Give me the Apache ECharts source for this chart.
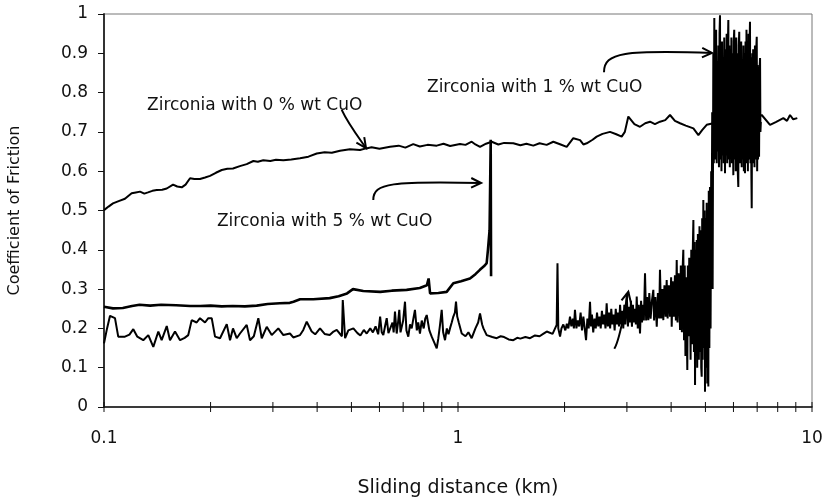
<!DOCTYPE html>
<html>
<head>
<meta charset="utf-8">
<script src="https://cdn.jsdelivr.net/npm/echarts@6/dist/echarts.min.js"></script>
<style>
  html, body { margin: 0; padding: 0; background: #fff; }
  #chart { width: 824px; height: 498px; }
</style>
</head>
<body>
<div id="chart"></div>
<script>
// Friction coefficient vs sliding distance (km) for zirconia with CuO additions.

// Tick positions along the logarithmic distance axis (km)
const xTickValues = [0.1, 0.2, 0.3, 0.4, 0.5, 0.6, 0.7, 0.8, 0.9, 1, 2, 3, 4, 5, 6, 7, 8, 9, 10];

// Zirconia with 0 % wt CuO
const cuo0 = [
  [0.100,0.501],[0.103,0.510],[0.106,0.518],[0.110,0.524],[0.1146,0.530],[0.1197,0.544],[0.1230,0.546],
  [0.1264,0.548],[0.1300,0.543],[0.1331,0.546],[0.1370,0.550],[0.1409,0.552],[0.1460,0.553],[0.1504,0.556],
  [0.1567,0.566],[0.1610,0.561],[0.1658,0.559],[0.1700,0.566],[0.1750,0.582],[0.1800,0.580],[0.1867,0.580],
  [0.1930,0.584],[0.1993,0.588],[0.2070,0.596],[0.2151,0.603],[0.2230,0.606],[0.2314,0.607],[0.2420,0.613],
  [0.2530,0.618],[0.2642,0.626],[0.2720,0.624],[0.2818,0.628],[0.2950,0.626],[0.3060,0.629],[0.3211,0.628],
  [0.3380,0.630],[0.3579,0.633],[0.3780,0.637],[0.3990,0.645],[0.4200,0.648],[0.4400,0.647],[0.4642,0.652],
  [0.4950,0.656],[0.5287,0.654],[0.5497,0.658],[0.5700,0.661],[0.6000,0.657],[0.6428,0.662],[0.6800,0.665],
  [0.7100,0.660],[0.7474,0.669],[0.7800,0.663],[0.8200,0.667],[0.8708,0.665],[0.9100,0.670],[0.9500,0.664],
  [1.013,0.669],[1.050,0.667],[1.093,0.675],[1.120,0.668],[1.154,0.662],[1.200,0.670],[1.245,0.675],
  [1.300,0.668],[1.350,0.672],[1.433,0.671],[1.500,0.666],[1.560,0.670],[1.632,0.665],[1.700,0.671],
  [1.780,0.667],[1.859,0.675],[1.950,0.668],[2.028,0.662],[2.117,0.684],[2.212,0.679],[2.260,0.668],
  [2.310,0.671],[2.400,0.680],[2.465,0.688],[2.560,0.695],[2.688,0.700],[2.800,0.694],[2.900,0.688],
  [2.960,0.700],[3.028,0.739],[3.150,0.720],[3.267,0.713],[3.380,0.722],[3.487,0.726],[3.600,0.720],
  [3.720,0.726],[3.850,0.730],[3.971,0.743],[4.100,0.728],[4.239,0.722],[4.400,0.716],[4.623,0.709],
  [4.776,0.692],[4.900,0.705],[5.041,0.718],[5.263,0.722],[5.600,0.720],[6.000,0.725],[6.500,0.730],
  [7.000,0.735],[7.211,0.743],[7.610,0.718],[7.900,0.725],[8.299,0.735],[8.500,0.728],[8.668,0.743],
  [8.850,0.732],[9.088,0.735]
];

// Zirconia with 1 % wt CuO
const cuo1 = [
  [0.100,0.162],[0.102,0.200],[0.104,0.232],[0.1074,0.226],[0.1097,0.179],[0.1146,0.179],[0.1180,0.184],
  [0.1210,0.198],[0.1242,0.179],[0.1291,0.170],[0.1334,0.183],[0.1378,0.153],[0.1424,0.192],[0.1455,0.170],
  [0.1504,0.206],[0.1536,0.170],[0.1587,0.192],[0.1640,0.170],[0.1690,0.176],[0.1730,0.183],[0.1769,0.221],
  [0.1827,0.215],[0.1867,0.226],[0.1929,0.215],[0.1971,0.226],[0.2015,0.226],[0.2059,0.179],[0.2127,0.175],
  [0.2222,0.211],[0.2270,0.170],[0.2314,0.200],[0.2371,0.175],[0.2422,0.187],[0.2530,0.209],[0.2585,0.170],
  [0.2650,0.180],[0.2729,0.226],[0.2790,0.175],[0.2882,0.204],[0.2977,0.183],[0.3107,0.200],[0.3211,0.183],
  [0.3352,0.187],[0.3425,0.177],[0.3579,0.183],[0.3656,0.196],[0.3738,0.217],[0.3861,0.192],[0.3950,0.185],
  [0.4076,0.200],[0.4200,0.186],[0.4341,0.183],[0.4450,0.192],[0.4544,0.196],[0.4700,0.180],[0.4726,0.272],
  [0.4798,0.175],[0.4900,0.195],[0.5064,0.200],[0.5200,0.188],[0.5300,0.182],[0.5420,0.196],[0.5522,0.187],
  [0.5650,0.200],[0.5750,0.190],[0.5850,0.205],[0.5950,0.185],[0.6026,0.230],[0.6090,0.190],[0.6152,0.183],
  [0.6220,0.205],[0.6290,0.226],[0.6360,0.188],[0.6428,0.183],[0.6530,0.215],[0.6580,0.190],[0.6637,0.243],
  [0.6711,0.187],[0.6770,0.215],[0.6826,0.247],[0.6880,0.190],[0.6934,0.187],[0.7000,0.220],[0.7084,0.268],
  [0.7150,0.195],[0.7237,0.179],[0.7320,0.210],[0.7400,0.200],[0.7480,0.225],[0.7558,0.247],[0.7650,0.195],
  [0.7720,0.215],[0.7808,0.187],[0.7900,0.220],[0.8000,0.200],[0.8080,0.225],[0.8159,0.234],[0.8300,0.195],
  [0.8428,0.179],[0.8560,0.165],[0.8708,0.149],[0.8800,0.175],[0.8900,0.210],[0.8994,0.247],[0.9080,0.190],
  [0.9190,0.170],[0.9300,0.200],[0.9400,0.185],[0.9493,0.200],[0.9600,0.215],[0.9700,0.230],[0.9800,0.240],
  [0.9871,0.268],[0.9950,0.230],[1.005,0.215],[1.0245,0.187],[1.050,0.180],[1.070,0.190],[1.093,0.175],
  [1.120,0.200],[1.140,0.215],[1.154,0.238],[1.170,0.210],[1.180,0.200],[1.205,0.183],[1.250,0.178],
  [1.286,0.175],[1.320,0.180],[1.350,0.178],[1.390,0.172],[1.433,0.170],[1.470,0.176],[1.500,0.174],
  [1.550,0.178],[1.598,0.175],[1.650,0.182],[1.700,0.180],[1.740,0.186],[1.781,0.192],[1.850,0.186],
  [1.900,0.209],[1.910,0.366],[1.920,0.200],[1.942,0.179],[1.960,0.200],[1.984,0.210],[2.010,0.195],
  [2.030,0.212],[2.050,0.200],[2.072,0.230],[2.090,0.205],[2.110,0.225],[2.125,0.200],[2.140,0.247],
  [2.160,0.200],[2.180,0.220],[2.200,0.205],[2.220,0.240],[2.240,0.195],[2.260,0.230],[2.280,0.200],
  [2.300,0.170],[2.320,0.225],[2.340,0.200],[2.360,0.268],[2.375,0.205],[2.390,0.235],[2.410,0.190],
  [2.430,0.225],[2.450,0.200],[2.470,0.240],[2.490,0.205],[2.510,0.230],[2.530,0.200],[2.550,0.245],
  [2.570,0.210],[2.590,0.235],[2.610,0.200],[2.630,0.264],[2.650,0.205],[2.670,0.240],[2.690,0.200],
  [2.710,0.250],[2.730,0.210],[2.750,0.235],[2.770,0.195],[2.790,0.250],[2.810,0.210],[2.830,0.240],
  [2.850,0.205],[2.870,0.260],[2.890,0.210],[2.910,0.245],[2.930,0.200],[2.950,0.260],[2.970,0.210],
  [2.997,0.289],[3.020,0.205],[3.040,0.255],[3.060,0.215],[3.080,0.270],[3.100,0.204],[3.120,0.260],
  [3.140,0.215],[3.160,0.250],[3.180,0.210],[3.198,0.281],[3.220,0.200],[3.240,0.260],[3.267,0.187],
  [3.290,0.270],[3.310,0.215],[3.330,0.260],[3.350,0.220],[3.375,0.340],[3.400,0.220],[3.420,0.280],
  [3.449,0.221],[3.470,0.290],[3.500,0.225],[3.530,0.270],[3.563,0.298],[3.580,0.220],[3.610,0.280],
  [3.643,0.204],[3.670,0.290],[3.700,0.225],[3.720,0.349],[3.750,0.225],[3.780,0.300],[3.802,0.221],
  [3.830,0.310],[3.860,0.230],[3.886,0.323],[3.910,0.225],[3.940,0.310],[3.970,0.230],[4.000,0.330],
  [4.015,0.204],[4.040,0.320],[4.070,0.230],[4.100,0.335],[4.125,0.220],[4.148,0.374],[4.170,0.215],
  [4.200,0.340],[4.239,0.196],[4.260,0.360],[4.290,0.190],[4.310,0.350],[4.330,0.400],[4.350,0.170],
  [4.370,0.360],[4.390,0.130],[4.410,0.330],[4.444,0.094],[4.460,0.360],[4.480,0.180],[4.500,0.380],
  [4.523,0.289],[4.540,0.120],[4.560,0.400],[4.580,0.160],[4.600,0.380],[4.623,0.476],[4.640,0.140],
  [4.660,0.420],[4.673,0.056],[4.690,0.400],[4.710,0.150],[4.725,0.425],[4.740,0.100],[4.760,0.440],
  [4.776,0.382],[4.790,0.120],[4.810,0.460],[4.830,0.140],[4.850,0.450],[4.865,0.100],[4.880,0.077],
  [4.895,0.480],[4.910,0.120],[4.932,0.527],[4.950,0.150],[4.970,0.500],[4.986,0.039],[5.000,0.480],
  [5.020,0.100],[5.041,0.520],[5.060,0.060],[5.080,0.500],[5.095,0.052],[5.110,0.550],[5.130,0.150],
  [5.150,0.560],[5.170,0.200],[5.190,0.600],[5.208,0.450],[5.225,0.750],[5.240,0.300],[5.263,0.900],
  [5.280,0.620],[5.297,0.990],[5.310,0.660],[5.320,0.930],[5.340,0.630],[5.360,0.960],[5.380,0.620],
  [5.400,0.880],[5.420,0.650],[5.440,0.920],[5.460,0.610],[5.480,0.950],[5.497,0.997],[5.510,0.630],
  [5.530,0.900],[5.550,0.600],[5.570,0.930],[5.590,0.640],[5.610,0.890],[5.630,0.620],[5.650,0.940],
  [5.679,0.595],[5.700,0.910],[5.720,0.640],[5.740,0.950],[5.760,0.620],[5.780,0.900],[5.803,0.985],
  [5.820,0.630],[5.840,0.920],[5.860,0.610],[5.880,0.890],[5.900,0.650],[5.920,0.940],[5.940,0.620],
  [5.960,0.900],[5.995,0.590],[6.010,0.930],[6.030,0.960],[6.050,0.630],[6.070,0.910],[6.090,0.600],
  [6.110,0.940],[6.130,0.640],[6.150,0.900],[6.170,0.600],[6.192,0.560],[6.210,0.920],[6.230,0.955],
  [6.250,0.620],[6.270,0.900],[6.290,0.640],[6.310,0.930],[6.330,0.610],[6.350,0.880],[6.370,0.630],
  [6.400,0.920],[6.420,0.600],[6.440,0.900],[6.467,0.595],[6.490,0.930],[6.510,0.620],[6.530,0.960],
  [6.550,0.630],[6.570,0.900],[6.590,0.600],[6.620,0.950],[6.640,0.630],[6.660,0.920],[6.681,0.980],
  [6.700,0.620],[6.720,0.890],[6.740,0.600],[6.756,0.506],[6.780,0.900],[6.800,0.620],[6.820,0.910],
  [6.840,0.640],[6.860,0.880],[6.880,0.610],[6.900,0.920],[6.930,0.630],[6.950,0.900],[6.981,0.942],
  [7.000,0.600],[7.020,0.870],[7.040,0.630],[7.060,0.860],[7.087,0.637],[7.110,0.860],[7.133,0.888],
  [7.150,0.700],[7.170,0.725]
];

// Zirconia with 5 % wt CuO
const cuo5 = [
  [0.100,0.255],[0.106,0.251],[0.113,0.252],[0.120,0.257],[0.126,0.260],[0.135,0.258],[0.145,0.260],
  [0.160,0.259],[0.175,0.257],[0.187,0.257],[0.200,0.258],[0.215,0.256],[0.231,0.257],[0.250,0.256],
  [0.270,0.258],[0.290,0.262],[0.314,0.264],[0.335,0.265],[0.343,0.268],[0.358,0.274],[0.390,0.274],
  [0.434,0.277],[0.460,0.282],[0.486,0.289],[0.505,0.300],[0.540,0.295],[0.603,0.293],[0.650,0.296],
  [0.716,0.298],[0.780,0.303],[0.817,0.310],[0.826,0.327],[0.834,0.289],[0.880,0.290],[0.929,0.293],
  [0.970,0.315],[1.020,0.320],[1.081,0.327],[1.120,0.338],[1.153,0.349],[1.190,0.360],[1.205,0.366],
  [1.215,0.400],[1.228,0.450],[1.237,0.680],[1.240,0.333]
];

// Series labels, anchored in data coordinates (left edge, vertical middle)
const labels = [
  { text: 'Zirconia with 0 % wt CuO', at: [0.1323, 0.768] },
  { text: 'Zirconia with 1 % wt CuO', at: [0.8173, 0.814] },
  { text: 'Zirconia with 5 % wt CuO', at: [0.2085, 0.471] }
];

// Pointer arrows: start, two control points, tip (data coordinates)
const pointers = [
  [[0.4694, 0.756], [0.49, 0.72], [0.52, 0.69], [0.5497, 0.659]],
  [[2.585, 0.852], [2.585, 0.903], [2.964, 0.908], [5.218, 0.901]],
  [[0.5764, 0.527], [0.5764, 0.570], [0.6513, 0.575], [1.162, 0.570]],
  [[2.764, 0.148], [2.88, 0.175], [2.93, 0.235], [3.028, 0.293]]
];

const FONT = 'DejaVu Sans, Verdana, sans-serif';
const chart = echarts.init(document.getElementById('chart'), null, { renderer: 'canvas' });

const lineSeries = (name, data, width) => ({
  name, type: 'line', data, showSymbol: false, symbol: 'none', smooth: false,
  lineStyle: { color: '#000', width }, emphasis: { disabled: true }, z: 3
});

chart.setOption({
  animation: false,
  backgroundColor: '#fff',
  grid: { left: 104, right: 12, top: 14, bottom: 91, outerBoundsMode: 'none', containLabel: false,
          show: true, borderColor: '#777', borderWidth: 1 },
  xAxis: {
    type: 'log', logBase: 10, min: 0.1, max: 10,
    name: 'Sliding distance (km)', nameLocation: 'middle', nameGap: 72,
    nameTextStyle: { fontFamily: FONT, fontSize: 19, color: '#111' },
    axisLine: { show: true, lineStyle: { color: '#111', width: 1.5 } },
    axisTick: { show: false },
    axisLabel: { fontFamily: FONT, fontSize: 17, color: '#111', margin: 23,
      formatter: v => (v < 0.5 ? '0.1' : v < 5 ? '1' : '10') },
    splitLine: { show: false }, minorTick: { show: false }
  },
  yAxis: {
    type: 'value', min: 0, max: 1, interval: 0.1,
    name: 'Coefficient of Friction', nameLocation: 'middle', nameGap: 81,
    nameTextStyle: { fontFamily: FONT, fontSize: 16, color: '#111' },
    axisLine: { show: true, lineStyle: { color: '#333', width: 2 } },
    axisTick: { show: true, inside: false, length: 6, lineStyle: { color: '#111', width: 1 } },
    axisLabel: { fontFamily: FONT, fontSize: 17, color: '#111', margin: 16,
      formatter: v => String(Math.round(v * 10) / 10) },
    splitLine: { show: false }
  },
  series: [
    lineSeries('Zirconia with 1 % wt CuO', cuo1, 2),
    lineSeries('Zirconia with 0 % wt CuO', cuo0, 2),
    lineSeries('Zirconia with 5 % wt CuO', cuo5, 2.6),
    {
      name: 'x ticks', type: 'custom', clip: false, silent: true, z: 4,
      data: xTickValues.map(v => [v, 0]),
      renderItem: (params, api) => {
        const p = api.coord([api.value(0), 0]);
        return { type: 'line', shape: { x1: p[0], y1: p[1] - 5, x2: p[0], y2: p[1] + 5 },
                 style: { stroke: '#111', lineWidth: 1 } };
      }
    }
  ]
});

// Labels and arrows placed through the grid's own coordinate conversion
const toPx = d => chart.convertToPixel({ gridIndex: 0 }, d);
const graphics = [];
labels.forEach(l => {
  const p = toPx(l.at);
  graphics.push({ type: 'text', x: p[0], y: p[1], z: 10,
    style: { text: l.text, font: '17px ' + FONT, fill: '#111', verticalAlign: 'middle', align: 'left' } });
});
pointers.forEach(pts => {
  const [a, b, c, d] = pts.map(toPx);
  graphics.push({ type: 'bezierCurve', z: 10,
    shape: { x1: a[0], y1: a[1], cpx1: b[0], cpy1: b[1], cpx2: c[0], cpy2: c[1], x2: d[0], y2: d[1] },
    style: { stroke: '#000', lineWidth: 2, fill: null } });
  const ang = Math.atan2(d[1] - c[1], d[0] - c[0]);
  const len = 11, spread = 0.45;
  graphics.push({ type: 'polyline', z: 10,
    shape: { points: [
      [d[0] - len * Math.cos(ang - spread), d[1] - len * Math.sin(ang - spread)],
      [d[0], d[1]],
      [d[0] - len * Math.cos(ang + spread), d[1] - len * Math.sin(ang + spread)]
    ] },
    style: { stroke: '#000', lineWidth: 2, fill: null } });
});
chart.setOption({ graphic: graphics });
</script>
</body>
</html>
